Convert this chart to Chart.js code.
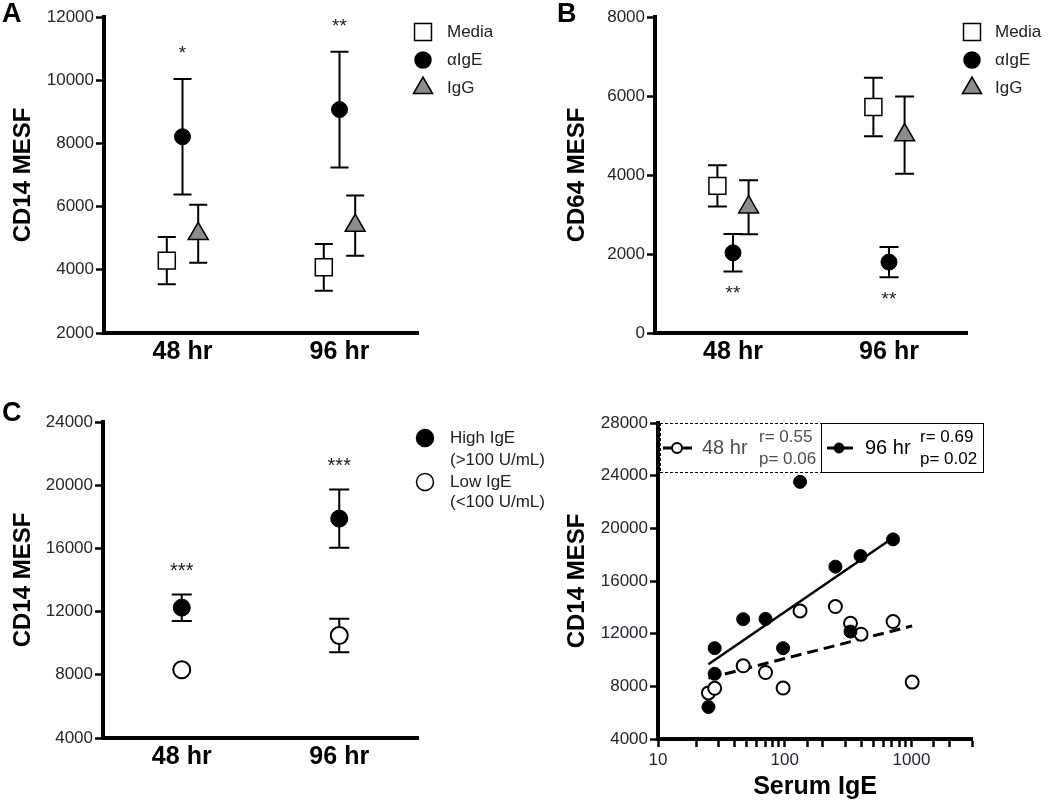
<!DOCTYPE html>
<html>
<head>
<meta charset="utf-8">
<script src="https://cdn.jsdelivr.net/npm/chart.js@4.4.0/dist/chart.umd.min.js"></script>
<style>
body{margin:0;background:#fff;width:1050px;height:800px;position:relative;overflow:hidden}
.panel{position:absolute}
</style>
</head>
<body>
<div class="panel" style="left:0;top:0;width:520px;height:390px"><canvas id="chartA"></canvas></div>
<div class="panel" style="left:548px;top:0;width:502px;height:390px"><canvas id="chartB"></canvas></div>
<div class="panel" style="left:0;top:390px;width:560px;height:410px"><canvas id="chartC"></canvas></div>
<div class="panel" style="left:548px;top:390px;width:502px;height:410px"><canvas id="chartD"></canvas></div>
<script>
const times = ['48 hr', '96 hr'];

// A: CD14 MESF (mean, sem)
const aMedia = [4290, 4080], aMediaErr = [750, 740];
const aIgE = [8210, 9070], aIgEErr = [1830, 1830];
const aIgG = [5140, 5400], aIgGErr = [920, 955];
const aStars = ['*', '**'];

// B: CD64 MESF
const bMedia = [3725, 5720], bMediaErr = [525, 740];
const bIgE = [2030, 1795], bIgEErr = [475, 385];
const bIgG = [3185, 5010], bIgGErr = [685, 980];
const bStars = ['**', '**'];

// C: CD14 MESF by serum IgE group
const cHigh = [12250, 17885], cHighErr = [840, 1845];
const cLow = [8320, 10485], cLowErr = [0, 1055];
const cStars = ['***', '***'];

// D: CD14 MESF vs serum IgE
const ige48 = [25, 28, 47, 70.5, 97, 132, 251, 330, 400, 715, 1012];
const cd14At48 = [7500, 7850, 9560, 9050, 7870, 13730, 14060, 12790, 11960, 12920, 8320];
const ige96 = [25, 28, 28, 47, 70.5, 97, 132, 251, 330, 396, 715];
const cd14At96 = [6430, 10900, 8950, 13100, 13120, 10900, 23530, 17090, 12160, 17900, 19160];
const fit48X = [25, 1012], fit48Y = [8620, 12590];
const fit96X = [25, 715], fit96Y = [9680, 19290];
const stats48 = ['r= 0.55', 'p= 0.06'];
const stats96 = ['r= 0.69', 'p= 0.02'];

const F = "'Liberation Sans', Arial, sans-serif";
const tickColor = '#262633';
Chart.defaults.font.family = F;
Chart.defaults.animation = false;
Chart.defaults.devicePixelRatio = 1;

const pts = (xs, ys) => xs.map((x, i) => ({x, y: ys[i]}));
const atTimes = (vals, off) => vals.map((v, i) => ({x: i + 1 + off, y: v}));

function yAxis(min, max, step, titleText, width, titleOff) {
  return {
    min, max,
    ticks: {stepSize: step, callback: v => String(v), color: tickColor, font: {size: 17}, padding: 2},
    grid: {drawOnChartArea: false, drawTicks: true, tickLength: 8, tickWidth: 2.5, tickColor: '#000'},
    border: {display: true, width: 4, color: '#000'},
    title: {display: true, text: titleText, color: '#000', font: {size: 24, weight: 'bold', lineHeight: 1}, padding: {top: titleOff - 12, bottom: 0}},
    afterFit: s => { s.width = width; }
  };
}

function xCat(height) {
  return {
    type: 'linear', min: 0.5, max: 2.5,
    afterBuildTicks: s => { s.ticks = [{value: 1}, {value: 2}]; },
    ticks: {callback: v => times[v - 1] || '', color: '#000', font: {size: 25, weight: 'bold'}, padding: 4, autoSkip: false, maxRotation: 0},
    grid: {display: false, drawTicks: false},
    border: {display: true, width: 4, color: '#000'},
    afterFit: s => { s.height = height; }
  };
}

function marker(ctx, style, x, y, r, fill, lw) {
  ctx.save();
  ctx.fillStyle = fill; ctx.strokeStyle = '#000'; ctx.lineWidth = lw;
  Chart.helpers.drawPoint(ctx, {pointStyle: style, radius: r, borderWidth: lw, rotation: 0}, x, y);
  ctx.restore();
}

function extras(cfg) {
  return {
    id: 'extras',
    beforeDatasetsDraw(chart) {
      const ctx = chart.ctx, xs = chart.scales.x, ys = chart.scales.y;
      ctx.save();
      ctx.strokeStyle = '#000'; ctx.lineWidth = 2;
      chart.data.datasets.forEach(ds => {
        if (!ds.err) return;
        ds.data.forEach((p, i) => {
          const e = ds.err[i];
          if (!e) return;
          const px = xs.getPixelForValue(p.x), y1 = ys.getPixelForValue(p.y + e), y2 = ys.getPixelForValue(p.y - e);
          ctx.beginPath();
          ctx.moveTo(px, y1); ctx.lineTo(px, y2);
          ctx.moveTo(px - cfg.cap, y1); ctx.lineTo(px + cfg.cap, y1);
          ctx.moveTo(px - cfg.cap, y2); ctx.lineTo(px + cfg.cap, y2);
          ctx.stroke();
        });
      });
      ctx.restore();
    },
    afterDraw(chart) {
      const ctx = chart.ctx, xs = chart.scales.x, ys = chart.scales.y;
      ctx.save();
      if (cfg.letter) {
        ctx.fillStyle = '#000'; ctx.font = 'bold 27px ' + F; ctx.textBaseline = 'alphabetic'; ctx.textAlign = 'left';
        ctx.fillText(cfg.letter, cfg.letterX, cfg.letterY);
      }
      if (cfg.stars) {
        const ds = chart.data.datasets[cfg.starDs];
        ctx.fillStyle = '#222'; ctx.font = cfg.starFont + 'px ' + F; ctx.textAlign = 'center'; ctx.textBaseline = 'middle';
        ds.data.forEach((p, i) => {
          const e = ds.err[i];
          const px = xs.getPixelForValue(Math.round(p.x));
          const py = cfg.starSide === 'above' ? ys.getPixelForValue(p.y + e) - cfg.starGap : ys.getPixelForValue(p.y - e) + cfg.starGap;
          ctx.fillText(cfg.stars[i], px, py + cfg.starFont * 0.22);
        });
      }
      if (cfg.legend) {
        ctx.font = '17px ' + F; ctx.textAlign = 'left'; ctx.textBaseline = 'middle';
        cfg.legend.forEach(it => {
          if (it.style) marker(ctx, it.style, it.mx, it.y, it.r, it.fill, 1.5);
          ctx.fillStyle = '#222';
          ctx.fillText(it.label, it.tx, it.y);
        });
      }
      if (cfg.after) cfg.after(chart, ctx);
      ctx.restore();
    }
  };
}

// ---------- A ----------
new Chart(document.getElementById('chartA'), {
  type: 'scatter',
  data: {datasets: [
    {label: 'Media', data: atTimes(aMedia, -0.1), err: aMediaErr, pointStyle: 'rect', pointRadius: 12, backgroundColor: '#fff', borderColor: '#000', borderWidth: 1.5},
    {label: 'αIgE', data: atTimes(aIgE, 0), err: aIgEErr, pointStyle: 'circle', pointRadius: 8, backgroundColor: '#000', borderColor: '#000', borderWidth: 1},
    {label: 'IgG', data: atTimes(aIgG, 0.1), err: aIgGErr, pointStyle: 'triangle', pointRadius: 11.5, backgroundColor: '#8c8c8c', borderColor: '#000', borderWidth: 1.5}
  ]},
  options: {
    responsive: true, maintainAspectRatio: false,
    layout: {padding: {left: 0, top: 17, right: 102, bottom: 0}},
    plugins: {legend: {display: false}, tooltip: {enabled: false}},
    scales: {x: xCat(57), y: yAxis(2000, 12000, 2000, 'CD14 MESF', 104, 23)}
  },
  plugins: [extras({cap: 9, letter: 'A', letterX: 2, letterY: 22, stars: aStars, starDs: 1, starSide: 'above', starGap: 29, starFont: 19,
    legend: [
      {style: 'rect', r: 12, fill: '#fff', mx: 423, tx: 447, y: 32, label: 'Media'},
      {style: 'circle', r: 8, fill: '#000', mx: 423, tx: 447, y: 60, label: 'αIgE'},
      {style: 'triangle', r: 11, fill: '#8c8c8c', mx: 423, tx: 447, y: 88, label: 'IgG'}
    ]})]
});

// ---------- B ----------
new Chart(document.getElementById('chartB'), {
  type: 'scatter',
  data: {datasets: [
    {label: 'Media', data: atTimes(bMedia, -0.1), err: bMediaErr, pointStyle: 'rect', pointRadius: 12, backgroundColor: '#fff', borderColor: '#000', borderWidth: 1.5},
    {label: 'αIgE', data: atTimes(bIgE, 0), err: bIgEErr, pointStyle: 'circle', pointRadius: 8, backgroundColor: '#000', borderColor: '#000', borderWidth: 1},
    {label: 'IgG', data: atTimes(bIgG, 0.1), err: bIgGErr, pointStyle: 'triangle', pointRadius: 11.5, backgroundColor: '#8c8c8c', borderColor: '#000', borderWidth: 1.5}
  ]},
  options: {
    responsive: true, maintainAspectRatio: false,
    layout: {padding: {left: 0, top: 17, right: 83, bottom: 0}},
    plugins: {legend: {display: false}, tooltip: {enabled: false}},
    scales: {x: xCat(57), y: yAxis(0, 8000, 2000, 'CD64 MESF', 107, 29)}
  },
  plugins: [extras({cap: 9.5, letter: 'B', letterX: 9, letterY: 22, stars: bStars, starDs: 1, starSide: 'below', starGap: 18, starFont: 19,
    legend: [
      {style: 'rect', r: 12, fill: '#fff', mx: 424, tx: 447, y: 32, label: 'Media'},
      {style: 'circle', r: 8, fill: '#000', mx: 424, tx: 447, y: 60, label: 'αIgE'},
      {style: 'triangle', r: 11, fill: '#8c8c8c', mx: 424, tx: 447, y: 88, label: 'IgG'}
    ]})]
});

// ---------- C ----------
new Chart(document.getElementById('chartC'), {
  type: 'scatter',
  data: {datasets: [
    {label: 'High IgE', data: atTimes(cHigh, 0), err: cHighErr, pointStyle: 'circle', pointRadius: 8.5, backgroundColor: '#000', borderColor: '#000', borderWidth: 1},
    {label: 'Low IgE', data: atTimes(cLow, 0), err: cLowErr, pointStyle: 'circle', pointRadius: 8.5, backgroundColor: '#fff', borderColor: '#000', borderWidth: 2}
  ]},
  options: {
    responsive: true, maintainAspectRatio: false,
    layout: {padding: {left: 0, top: 32, right: 142, bottom: 0}},
    plugins: {legend: {display: false}, tooltip: {enabled: false}},
    scales: {x: xCat(62), y: yAxis(4000, 24000, 4000, 'CD14 MESF', 103, 23)}
  },
  plugins: [extras({cap: 10, letter: 'C', letterX: 2, letterY: 31, stars: cStars, starDs: 0, starSide: 'above', starGap: 27, starFont: 20,
    legend: [
      {style: 'circle', r: 8.5, fill: '#000', mx: 425, tx: 450, y: 48, label: 'High IgE'},
      {tx: 450, y: 70, label: '(>100 U/mL)'},
      {style: 'circle', r: 8.5, fill: '#fff', mx: 425, tx: 450, y: 92, label: 'Low IgE'},
      {tx: 450, y: 112, label: '(<100 U/mL)'}
    ]})]
});

// ---------- D ----------
function legendD(chart, ctx) {
  const a = chart.chartArea, top = a.top, bot = top + 49;
  const x0 = a.left + 2, x1 = x0 + 161, x2 = x1 + 162;
  ctx.lineWidth = 1;
  ctx.strokeStyle = '#000';
  ctx.setLineDash([3, 2]);
  ctx.beginPath(); ctx.moveTo(x0, top + 0.5); ctx.lineTo(x1, top + 0.5); ctx.moveTo(x0 + 0.5, top); ctx.lineTo(x0 + 0.5, bot); ctx.moveTo(x0, bot + 0.5); ctx.lineTo(x1, bot + 0.5); ctx.stroke();
  ctx.setLineDash([]);
  ctx.strokeRect(x1 + 0.5, top + 0.5, x2 - x1, bot - top);
  const my = top + 25;
  // 48 hr symbol
  ctx.lineWidth = 3;
  ctx.beginPath(); ctx.moveTo(x0 + 3, my); ctx.lineTo(x0 + 32, my); ctx.stroke();
  marker(ctx, 'circle', x0 + 17, my, 5, '#fff', 2);
  // 96 hr symbol
  ctx.lineWidth = 3;
  ctx.beginPath(); ctx.moveTo(x1 + 6, my); ctx.lineTo(x1 + 32, my); ctx.stroke();
  marker(ctx, 'circle', x1 + 18, my, 5, '#000', 1);
  ctx.textAlign = 'left'; ctx.textBaseline = 'middle';
  ctx.fillStyle = '#4d4d57';
  ctx.font = '20px ' + F; ctx.fillText('48 hr', x0 + 42, my);
  ctx.font = '17px ' + F; ctx.fillText(stats48[0], x0 + 99, my - 11); ctx.fillText(stats48[1], x0 + 99, my + 11);
  ctx.fillStyle = '#000';
  ctx.font = '20px ' + F; ctx.fillText('96 hr', x1 + 44, my);
  ctx.font = '17px ' + F; ctx.fillText(stats96[0], x1 + 99, my - 11); ctx.fillText(stats96[1], x1 + 99, my + 11);
}

new Chart(document.getElementById('chartD'), {
  type: 'scatter',
  data: {datasets: [
    {label: '96 hr', data: pts(ige96, cd14At96), pointStyle: 'circle', pointRadius: 6.5, backgroundColor: '#000', borderColor: '#000', borderWidth: 1},
    {label: '48 hr', data: pts(ige48, cd14At48), pointStyle: 'circle', pointRadius: 6.5, backgroundColor: '#fff', borderColor: '#000', borderWidth: 2},
    {label: 'fit 96', data: pts(fit96X, fit96Y), showLine: true, pointRadius: 0, borderColor: '#000', borderWidth: 2.5},
    {label: 'fit 48', data: pts(fit48X, fit48Y), showLine: true, pointRadius: 0, borderColor: '#000', borderWidth: 3, borderDash: [11, 6]}
  ]},
  options: {
    responsive: true, maintainAspectRatio: false,
    layout: {padding: {left: 0, top: 33, right: 78, bottom: 0}},
    plugins: {legend: {display: false}, tooltip: {enabled: false}},
    scales: {
      x: {
        type: 'logarithmic', min: 10, max: 3000,
        ticks: {callback: v => [10, 100, 1000].includes(v) ? String(v) : '', color: tickColor, font: {size: 17}, padding: 3, autoSkip: false, maxRotation: 0},
        grid: {drawOnChartArea: false, drawTicks: true, tickLength: 8, tickWidth: 2.5, tickColor: '#000'},
        border: {display: true, width: 4, color: '#000'},
        title: {display: true, text: 'Serum IgE', color: '#000', font: {size: 25, weight: 'bold', lineHeight: 1}, padding: {top: 0, bottom: 0}},
        afterFit: s => { s.height = 61; }
      },
      y: yAxis(4000, 28000, 4000, 'CD14 MESF', 110, 29)
    }
  },
  plugins: [extras({after: legendD})]
});
</script>
</body>
</html>
